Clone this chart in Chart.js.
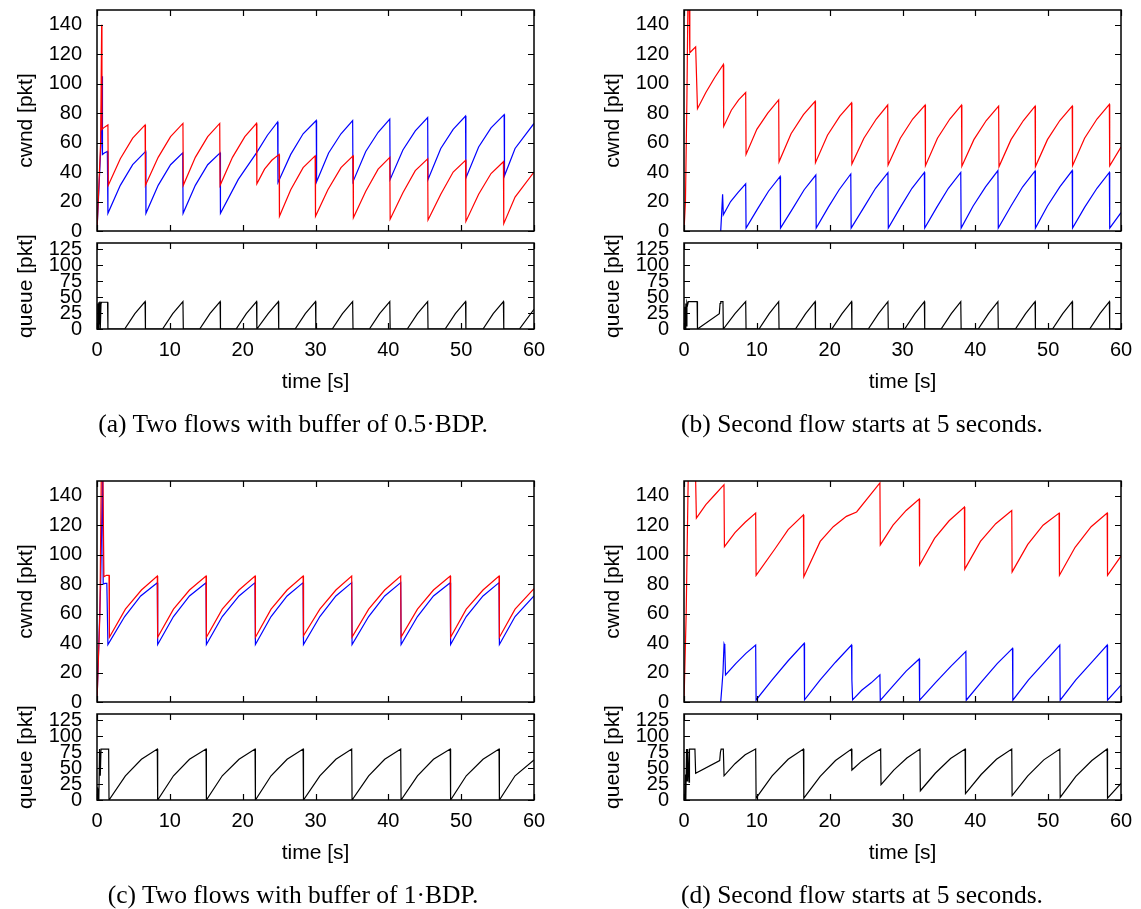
<!DOCTYPE html>
<html>
<head>
<meta charset="utf-8">
<script src="https://cdn.jsdelivr.net/npm/chart.js@4.4.1/dist/chart.umd.min.js"></script>
<style>
  html, body { margin: 0; padding: 0; background: #fff; overflow: hidden; }
  #page { position: relative; width: 1141px; height: 909px; overflow: hidden; background: #fff; }
  #page canvas { position: absolute; }
  .cap {
    position: absolute; width: 560px; text-align: center;
    font-family: "Liberation Serif", "Times New Roman", serif;
    font-size: 25.5px; line-height: 28px; color: #000; white-space: nowrap;
  }
</style>
</head>
<body>
<div id="page"></div>
<script>
// axis ticks
const timeTicks = [0, 10, 20, 30, 40, 50, 60];
const cwndTicks = [0, 20, 40, 60, 80, 100, 120, 140];
const queueTicks = [0, 25, 50, 75, 100, 125];

const captions = [
  '(a) Two flows with buffer of 0.5\u00b7BDP.',
  '(b) Second flow starts at 5 seconds.',
  '(c) Two flows with buffer of 1\u00b7BDP.',
  '(d) Second flow starts at 5 seconds.'
];

// (a) two flows, 0.5 BDP buffer -- [time s, cwnd pkt]
const aRed = [[0,0],[0.5,60],[0.64,140],[0.68,69],[0.9,70],[1.5,72],[1.55,31],
  [3.2,49],[4.9,63],[6.6,72],[6.65,31],[8.4,50],[10.1,64],[11.8,73],[11.85,31],
  [13.5,50],[15.2,64],[16.85,73],[16.9,31],[18.6,50],[20.3,64],[21.9,73],[21.95,32],
  [23.0,42],[24.0,48],[25.0,52],[25.05,10],[26.6,28],[28.3,43],[29.95,51],[30.0,10],
  [31.7,28],[33.5,43],[35.15,51],[35.2,9],[36.9,27],[38.6,42],[40.2,50],[40.25,8],
  [42.0,26],[43.7,41],[45.4,49],[45.45,7.5],[47.2,25],[48.9,40],[50.6,48],[50.65,6.5],
  [52.4,25],[54.1,39],[55.8,47],[55.85,5],[57.4,23],[60,40]];
const aBlue = [[0,0],[0.55,60],[0.69,105],[0.75,52],[1.0,53],[1.42,54],[1.5,12],
  [3.2,31],[4.9,45],[6.68,54],[6.72,12],[8.4,31],[10.1,45],[11.77,53],[11.82,12],
  [13.5,31],[15.2,45],[16.9,53],[16.95,12],[19.4,35],[21.9,53],[23.4,65],[24.8,74],[24.85,33],
  [26.6,52],[28.3,66],[30.1,75],[30.15,33.5],[31.8,53],[33.5,66],[35.1,75],[35.15,33.5],
  [36.9,54],[38.6,67],[40.2,76],[40.25,35],[42.0,55],[43.7,68],[45.4,77],[45.45,35],
  [47.2,56],[48.9,69],[50.6,78],[50.65,36],[52.4,57],[54.1,70],[55.9,79],[55.95,37.5],
  [57.4,56],[60,73]];
const aQueue = [[0,0],[0.1,40],[0.15,0],[0.25,42],[0.3,8],[0.4,43],[0.45,0],[0.55,41],[0.6,42],[1.45,42],[1.5,0],
  [3.8,0],[5.2,24],[6.6,43],[6.65,0],[9.0,0],[10.4,24],[11.8,43],[11.85,0],
  [14.1,0],[15.5,24],[16.9,43],[16.95,0],[19.1,0],[20.5,24],[21.9,43],[21.95,0],
  [23.5,24],[24.9,43],[24.95,0],[27.2,0],[28.6,24],[30.0,43],[30.05,0],
  [32.3,0],[33.7,24],[35.1,43],[35.15,0],[37.4,0],[38.8,24],[40.2,43],[40.25,0],
  [42.6,0],[44.0,24],[45.4,43],[45.45,0],[47.8,0],[49.2,24],[50.6,43],[50.65,0],
  [53.0,0],[54.4,24],[55.8,43],[55.85,0],[58.0,0],[60,31]];

// (b) second flow starts at 5 s
const bRed = [[0,0],[0.2,20],[0.4,90],[0.55,160],[0.7,160],[0.8,121],[1.2,123],[1.6,125],[1.85,83],
  [3.0,94],[4.2,104],[5.4,113],[5.45,71],[6.5,82],[7.5,89],[8.47,94],[8.52,52],
  [10.0,69],[11.5,80],[13.0,89],[13.05,47],[14.7,66],[16.4,79],[18.0,88],[18.05,46.4],
  [19.7,65],[21.4,78],[23.0,87],[23.05,45.5],[24.7,63],[26.4,76],[27.97,85.5],[28.02,44.8],
  [29.7,63],[31.4,76],[33.1,85.5],[33.15,44.3],[34.8,63],[36.5,76],[38.1,85.5],[38.15,44],
  [39.8,62],[41.5,75],[43.2,84.8],[43.25,43.7],[44.9,62],[46.6,75],[48.2,84.8],[48.25,43.7],
  [49.9,62],[51.6,75],[53.3,84.8],[53.35,44.3],[55.0,63],[56.7,76],[58.4,86],[58.45,44.3],[60,57]];
const bBlue = [[5.04,0],[5.15,10],[5.3,25],[5.4,11],[6.4,20],[7.4,26],[8.47,32],[8.52,2],
  [10.1,15],[11.6,27],[13.2,37],[13.25,2],[14.9,15],[16.5,28],[18.1,38],[18.15,2],
  [19.8,16],[21.3,28],[22.9,38.7],[22.95,2],[24.7,16],[26.3,29],[28.0,39.6],[28.05,2],
  [29.7,16],[31.3,29],[33.0,39.8],[33.05,2],[34.7,16],[36.3,29],[38.0,39.8],[38.05,2],
  [39.7,17],[41.4,30],[43.1,41],[43.15,2],[44.9,17],[46.5,30],[48.2,40.8],[48.25,2],
  [49.9,17],[51.6,30],[53.3,41],[53.35,2],[55.0,16],[56.7,29],[58.4,39.8],[58.45,2],[60,12.4]];
const bQueue = [[0,0],[0.1,35],[0.15,0],[0.25,40],[0.3,5],[0.4,42],[0.5,38],[0.6,43],[1.8,43],[1.85,0],
  [4.85,24],[4.95,40],[5.05,43],[5.35,43],[5.4,0],[5.45,0],[7.0,24],[8.47,43],[8.52,0],
  [10.3,0],[11.7,24],[13.0,43],[13.05,0],[15.3,0],[16.7,24],[18.0,43],[18.05,0],
  [20.3,0],[21.7,24],[23.0,43],[23.05,0],[25.3,0],[26.7,24],[28.0,43],[28.05,0],
  [30.3,0],[31.7,24],[33.0,43],[33.05,0],[35.3,0],[36.7,24],[38.0,43],[38.05,0],
  [40.4,0],[41.8,24],[43.1,43],[43.15,0],[45.5,0],[46.9,24],[48.2,43],[48.25,0],
  [50.6,0],[52.0,24],[53.3,43],[53.35,0],[55.7,0],[57.1,24],[58.4,43],[58.45,0],[60,0]];

// (c) two flows, 1 BDP buffer
const cRed = [[0,0],[0.4,60],[0.6,160],[0.8,160],[0.95,85],[1.3,86],[1.65,86],[1.7,44],
  [3.9,63],[6.1,76],[8.28,85.5],[8.33,44],[10.5,63],[12.7,76],[14.97,85.5],[15.02,44],
  [17.2,63],[19.5,76],[21.7,85.5],[21.75,44],[23.9,63],[26.1,76],[28.3,85.5],[28.35,45],
  [30.6,63],[32.8,76],[34.97,85.5],[35.02,44],[37.3,63],[39.5,76],[41.7,85.5],[41.75,44],
  [44.0,63],[46.2,76],[48.5,85.5],[48.55,44],[50.7,63],[53.0,76],[55.2,85.5],[55.25,44],
  [57.4,63],[60,77]];
const cBlue = [[0,0],[0.5,80],[0.78,160],[0.85,80],[1.1,80.5],[1.35,80.5],[1.5,39],
  [3.8,58],[6.0,72],[8.28,81],[8.33,39],[10.5,58],[12.7,72],[14.97,81],[15.02,39],
  [17.2,58],[19.5,72],[21.7,81],[21.75,39],[23.9,58],[26.1,72],[28.3,81],[28.35,39],
  [30.6,58],[32.8,72],[34.97,81],[35.02,39],[37.3,58],[39.5,72],[41.7,81],[41.75,39],
  [44.0,58],[46.2,72],[48.5,81],[48.55,39],[50.7,58],[53.0,72],[55.2,81],[55.25,39],
  [57.4,58],[60,72]];
const cQueue = [[0,0],[0.05,20],[0.1,0],[0.2,18],[0.25,0],[0.35,80],[0.45,38],[0.55,80],[1.6,80],[1.65,0],
  [3.9,38],[6.1,64],[8.28,80],[8.33,0],[10.5,38],[12.7,64],[14.97,80],[15.02,0],
  [17.2,38],[19.5,64],[21.7,80],[21.75,0],[23.9,38],[26.1,64],[28.3,80],[28.35,0],
  [30.6,38],[32.8,64],[34.97,80],[35.02,0],[37.3,38],[39.5,64],[41.7,80],[41.75,0],
  [44.0,38],[46.2,64],[48.5,80],[48.55,0],[50.7,38],[53.0,64],[55.2,80],[55.25,0],
  [57.4,38],[60,63]];

// (d) second flow starts at 5 s, 1 BDP buffer
const dRed = [[0,0],[0.3,60],[0.6,160],[1.5,160],[1.6,150],[1.7,124.8],
  [3.0,134],[4.3,141],[5.49,147.5],[5.55,105.4],[7.0,115],[8.4,122],[9.84,128.2],[9.9,86],
  [12.5,104],[14.3,117],[16.4,127],[16.45,85],[18.7,109],[20.5,119],[22.3,126],[23.7,129],
  [26.9,148.7],[26.95,106.6],[28.7,120],[30.5,130],[32.3,137.8],[32.35,93],
  [34.4,111],[36.4,123],[38.5,132.3],[38.55,90.2],[40.7,109],[42.8,121],[45.0,130],[45.05,88.3],
  [47.2,107],[49.3,120],[51.5,128.2],[51.55,86],[53.7,105],[55.9,119],[58.1,128.2],[58.15,86],[60,99]];
const dBlue = [[5.04,0],[5.2,10],[5.35,20],[5.5,39.4],[5.6,38],[5.7,18.4],
  [7.1,26],[8.5,33],[9.84,38.7],[9.9,1.4],[12.1,15],[14.3,28],[16.5,39.8],[16.55,1.5],
  [18.7,15],[20.8,27],[23.0,38.7],[23.05,15],[23.15,1.5],[24.4,8],[25.7,13],[26.9,18.4],[26.95,1.1],
  [28.7,11],[30.5,21],[32.3,29.2],[32.35,1.2],[34.5,13],[36.6,24],[38.7,34.4],[38.75,1.2],
  [40.9,14],[43.0,26],[45.1,36.4],[45.15,1.2],[47.3,15],[49.5,27],[51.6,38.7],[51.65,1.2],
  [53.8,15],[56.0,27],[58.1,38.7],[58.15,1.2],[60,11.4]];
const dQueue = [[0,0],[0.05,5],[0.1,0],[0.2,40],[0.25,0],[0.35,80],[0.45,30],[0.5,80],[0.7,28],[0.75,80],[1.5,80],[1.6,42],
  [4.9,62],[5.0,75],[5.1,80],[5.4,80],[5.5,38],[7.0,57],[8.4,71],[9.84,80],[9.9,3],
  [12.1,38],[14.3,64],[16.4,80],[16.45,3],[18.7,37],[20.8,62],[23.0,80],[23.05,47],
  [24.4,61],[25.7,71],[27.0,80],[27.05,24],[28.8,47],[30.6,66],[32.4,80],[32.45,14.5],
  [34.5,42],[36.6,65],[38.6,80],[38.65,10],[40.8,40],[42.9,64],[45.0,80],[45.05,7],
  [47.2,38],[49.4,63],[51.6,80],[51.65,4],[53.8,37],[56.0,62],[58.1,80],[58.15,3],[60,26]];

const RED = '#ff0000', BLUE = '#0000ff', BLACK = '#000000';

const panels = [
  { col: 0, row: 0, cwnd: [[aRed, RED], [aBlue, BLUE]], queue: aQueue },
  { col: 1, row: 0, cwnd: [[bRed, RED], [bBlue, BLUE]], queue: bQueue },
  { col: 0, row: 1, cwnd: [[cRed, RED], [cBlue, BLUE]], queue: cQueue },
  { col: 1, row: 1, cwnd: [[dRed, RED], [dBlue, BLUE]], queue: dQueue }
];

const COL_X = [0, 587];
const ROW_Y = [0, 471];
const CAP_CX = [293, 862];

Chart.defaults.font.family = '"Liberation Sans", Arial, Helvetica, sans-serif';
Chart.defaults.color = '#000';

// gnuplot-like frame with inward ticks on all four sides
const frame = {
  id: 'frame',
  afterDatasetsDraw(chart) {
    const { ctx, chartArea: a, scales: { x, y } } = chart;
    const len = 6;
    ctx.save();
    ctx.strokeStyle = '#000';
    ctx.lineWidth = 1.2;
    ctx.beginPath();
    x.ticks.forEach(t => {
      const px = Math.round(x.getPixelForValue(t.value)) + 0.5;
      ctx.moveTo(px, a.bottom); ctx.lineTo(px, a.bottom - len);
      ctx.moveTo(px, a.top); ctx.lineTo(px, a.top + len);
    });
    y.ticks.forEach(t => {
      const py = Math.round(y.getPixelForValue(t.value)) + 0.5;
      ctx.moveTo(a.left, py); ctx.lineTo(a.left + len, py);
      ctx.moveTo(a.right, py); ctx.lineTo(a.right - len, py);
    });
    ctx.stroke();
    ctx.lineWidth = 1.5;
    ctx.strokeRect(a.left, a.top, a.right - a.left, a.bottom - a.top);
    ctx.restore();
  }
};

const page = document.getElementById('page');

function addCanvas(left, top, w, h) {
  const c = document.createElement('canvas');
  c.width = w; c.height = h;
  c.style.left = left + 'px';
  c.style.top = top + 'px';
  c.style.width = w + 'px';
  c.style.height = h + 'px';
  page.appendChild(c);
  return c;
}

function drawPlot(canvas, lines, isQueue) {
  new Chart(canvas, {
    type: 'scatter',
    data: {
      datasets: lines.map(([pts, color]) => ({
        data: pts.map(p => ({ x: p[0], y: p[1] })),
        borderColor: color,
        backgroundColor: color,
        borderWidth: 1.2,
        showLine: true,
        pointRadius: 0,
        tension: 0
      }))
    },
    options: {
      responsive: false,
      animation: false,
      events: [],
      layout: {
        autoPadding: false,
        padding: isQueue ? { left: 0, right: 36, top: 17, bottom: 3 }
                         : { left: 0, right: 36, top: 10, bottom: 9 }
      },
      plugins: { legend: { display: false }, tooltip: { enabled: false } },
      scales: {
        x: {
          type: 'linear', min: 0, max: 60,
          afterBuildTicks: s => { s.ticks = timeTicks.map(v => ({ value: v })); },
          afterFit: s => { s.height = isQueue ? 66 : 0; s.paddingLeft = 0; s.paddingRight = 0; },
          grid: { display: false, drawTicks: false },
          border: { display: false },
          ticks: { display: isQueue, padding: 9, autoSkip: false, maxRotation: 0, font: { size: 20 } },
          title: { display: isQueue, text: 'time [s]', padding: 0, font: { size: 21 } }
        },
        y: {
          type: 'linear', min: 0, max: isQueue ? 135 : 150,
          afterBuildTicks: s => { s.ticks = (isQueue ? queueTicks : cwndTicks).map(v => ({ value: v })); },
          afterFit: s => { s.width = 97; s.paddingTop = 0; s.paddingBottom = 0; },
          grid: { display: false, drawTicks: false },
          border: { display: false },
          ticks: { padding: 15, autoSkip: false, font: { size: 20 } },
          title: { display: true, text: isQueue ? 'queue [pkt]' : 'cwnd [pkt]', padding: { top: 14, bottom: 0 }, font: { size: 21 } }
        }
      }
    },
    plugins: [frame]
  });
}

panels.forEach((p, i) => {
  const left = COL_X[p.col];
  const top = ROW_Y[p.row];
  drawPlot(addCanvas(left, top, 570, 240), p.cwnd, false);
  drawPlot(addCanvas(left, top + 226, 570, 172), [[p.queue, BLACK]], true);

  const cap = document.createElement('div');
  cap.className = 'cap';
  cap.textContent = captions[i];
  cap.style.left = (CAP_CX[p.col] - 280) + 'px';
  cap.style.top = (top + 410) + 'px';
  page.appendChild(cap);
});
</script>
</body>
</html>
